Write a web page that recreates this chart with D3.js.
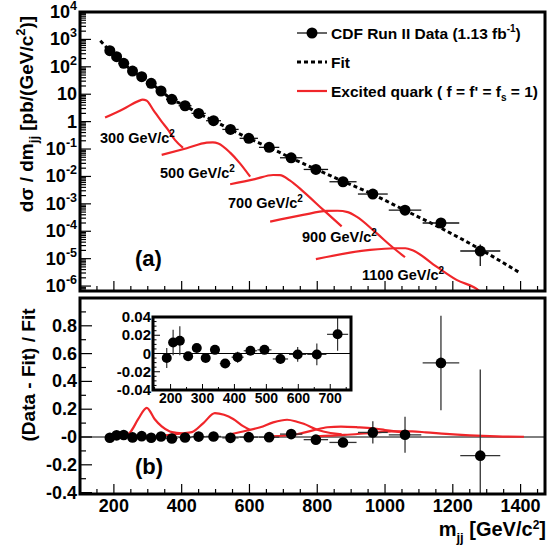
<!DOCTYPE html>
<html><head><meta charset="utf-8">
<script src="https://cdn.jsdelivr.net/npm/d3@7"></script>
<style>
body{margin:0;background:#fff}
svg{display:block}
text{font-family:"Liberation Sans",Arial,Helvetica,sans-serif;font-weight:bold;fill:#000}
</style>
</head><body>
<svg id="c" width="547" height="551"></svg>
<script>
// ---------------- DATA ----------------
const mass      = [188, 208, 229, 255, 282, 310, 339, 371, 410, 450, 494, 544, 598, 658, 723, 796, 876, 964, 1059, 1165, 1281];
const massHalfW = [8, 10, 11, 13, 14, 14, 15, 17, 19, 21, 22, 24, 27, 30, 33, 36, 40, 44, 48, 54, 59];
const xsec      = [387, 234, 134, 70, 43.5, 25, 13.1, 6.5, 3.8, 2.0, 1.08, 0.52, 0.246, 0.115, 0.048, 0.018, 0.0064, 0.00228, 5.9e-4, 2.0e-4, 1.9e-5];
const resid     = [-0.005, 0.012, 0.014, -0.003, 0.006, -0.005, 0.004, -0.011, -0.004, 0.003, 0.004, -0.006, -0.001, -0.001, 0.021, -0.019, -0.039, 0.033, 0.016, 0.533, -0.134];
const residErr  = [0.011, 0.014, 0.016, 0.004, 0.004, 0.003, 0.004, 0.004, 0.006, 0.004, 0.004, 0.005, 0.008, 0.012, 0.018, 0.025, 0.03, 0.08, 0.13, 0.34, 0.62];

const fitMass = [160, 188, 208, 229, 255, 282, 310, 339, 371, 410, 450, 494, 544, 598, 658, 723, 796, 876, 964, 1059, 1165, 1281, 1395];
const fitVal  = [890, 389, 231, 132, 70.2, 43.2, 25.1, 13.05, 6.57, 3.82, 1.99, 1.076, 0.523, 0.246, 0.115, 0.047, 0.01835, 0.00666, 0.00221, 5.8e-4, 1.3e-4, 2.19e-5, 3.2e-6];

// excited quark signal shapes, [mass, dsigma/dm]
const sig300  = [[174,1.4],[228,2.9],[272,5.6],[285,6.3],[296,5.9],[316,2.7],[341,1.0],[360,0.5],[380,0.215],[404,0.11]];
const sig500  = [[341,0.061],[415,0.107],[474,0.171],[492,0.176],[508,0.16],[543,0.074],[572,0.030],[602,0.0098]];
const sig700  = [[543,0.0052],[616,0.0080],[670,0.0113],[690,0.0112],[719,0.0072],[759,0.0028],[818,6.0e-4],[872,1.5e-4]];
const sig900  = [[661,2.25e-4],[758,3.95e-4],[828,5.5e-4],[860,5.6e-4],[890,5.0e-4],[916,3.4e-4],[975,8.5e-5],[1024,2.5e-5],[1059,1.13e-5]];
const sig1100 = [[796,9.6e-6],[956,2.09e-5],[1030,2.4e-5],[1060,2.4e-5],[1083,1.97e-5],[1152,5.1e-6],[1211,1.68e-6],[1280,6.3e-7],[1300,3e-7]];
const sigLabels = ["300", "500", "700", "900", "1100"];

// excited quark signal / fit, [mass, ratio]
const rat300  = [[174,0],[230,0.005],[250,0.04],[272,0.13],[297,0.21],[320,0.13],[341,0.076],[365,0.04],[385,0.03],[404,0.025]];
const rat500  = [[341,0.01],[400,0.025],[430,0.035],[464,0.10],[498,0.172],[525,0.16],[552,0.13],[580,0.08],[602,0.05]];
const rat700  = [[543,0.02],[590,0.045],[632,0.07],[670,0.105],[711,0.124],[740,0.11],[760,0.095],[800,0.052],[839,0.029],[872,0.02]];
const rat900  = [[661,0.005],[740,0.02],[790,0.05],[830,0.07],[870,0.075],[920,0.07],[965,0.062],[1000,0.05],[1030,0.04],[1059,0.03]];
const rat1100 = [[796,0.005],[880,0.015],[960,0.03],[1020,0.04],[1080,0.04],[1120,0.034],[1180,0.022],[1250,0.012],[1330,0.005],[1410,0.002]];

const xTickVals = [200, 400, 600, 800, 1000, 1200, 1400];
const topExps   = [4, 3, 2, 1, 0, -1, -2, -3, -4, -5, -6];
const botTicks  = [-0.4, -0.2, 0, 0.2, 0.4, 0.6, 0.8];
const botLabels = ["-0.4", "-0.2", "-0", "0.2", "0.4", "0.6", "0.8"];
const insTicksY = [-0.04, -0.02, 0, 0.02, 0.04];
const insLabelsY = ["-0.04", "-0.02", "0", "0.02", "0.04"];
const insTicksX = [200, 300, 400, 500, 600, 700];
const insetCount = 15;

// ---------------- LAYOUT ----------------
const svg = d3.select("#c");
const RED = "#f0262a";
const L = 80, R = 545;
const topT = 12, topB = 291, botT = 298, botB = 494;

const x = d3.scaleLinear().domain([100, 1472]).range([L, R]);
const yT = d3.scaleLog().domain([Math.pow(10, -6.18), 1e4]).range([topB, topT]);
const yB = d3.scaleLinear().domain([-0.41, 1.0]).range([botB, botT]);

const defs = svg.append("defs");
defs.append("clipPath").attr("id", "clipT").append("rect").attr("x", L).attr("y", topT).attr("width", R - L).attr("height", topB - topT);
defs.append("clipPath").attr("id", "clipB").append("rect").attr("x", L).attr("y", botT).attr("width", R - L).attr("height", botB - botT);

// ---------------- TOP PANEL ----------------
const gT = svg.append("g");
const gTc = gT.append("g").attr("clip-path", "url(#clipT)");

const sigLine = d3.line().x(d => x(d[0])).y(d => yT(d[1])).curve(d3.curveMonotoneX);
[sig300, sig500, sig700, sig900, sig1100].forEach(s => {
  gTc.append("path").attr("d", sigLine(s)).attr("fill", "none").attr("stroke", RED).attr("stroke-width", 2.2);
});

const fitLine = d3.line().x((d, i) => x(fitMass[i])).y(d => yT(d)).curve(d3.curveMonotoneX);
gTc.append("path").attr("d", fitLine(fitVal)).attr("fill", "none").attr("stroke", "#000")
  .attr("stroke-width", 3).attr("stroke-dasharray", "4,3");

function fitAt(m) {
  const i = fitMass.findIndex(v => v >= m);
  if (i <= 0) return fitVal[0];
  const t = (m - fitMass[i - 1]) / (fitMass[i] - fitMass[i - 1]);
  return Math.pow(10, Math.log10(fitVal[i - 1]) * (1 - t) + Math.log10(fitVal[i]) * t);
}

mass.forEach((m, i) => {
  const f = fitAt(m);
  const lo = Math.max(xsec[i] - residErr[i] * f, 1e-7), hi = xsec[i] + residErr[i] * f;
  gTc.append("line").attr("x1", x(m - massHalfW[i])).attr("x2", x(m + massHalfW[i]))
    .attr("y1", yT(xsec[i])).attr("y2", yT(xsec[i])).attr("stroke", "#111").attr("stroke-width", 1.3);
  gTc.append("line").attr("x1", x(m)).attr("x2", x(m)).attr("y1", yT(lo)).attr("y2", yT(hi))
    .attr("stroke", "#111").attr("stroke-width", 1.3);
  gTc.append("circle").attr("cx", x(m)).attr("cy", yT(xsec[i])).attr("r", 5.5).attr("fill", "#000");
});

// signal labels
const labPos = [[100, 143], [160, 178], [228, 208], [302, 242], [362, 280]];
sigLabels.forEach((s, i) => {
  const t = gT.append("text").attr("x", labPos[i][0]).attr("y", labPos[i][1]).attr("font-size", 14.5);
  t.append("tspan").text(s + " GeV/c");
  t.append("tspan").attr("dy", -6).attr("font-size", 10).text("2");
});

// top axes ticks
for (let e = -7; e <= 3; e++) {
  for (let k = 1; k <= 9; k++) {
    const v = k * Math.pow(10, e);
    if (v < yT.domain()[0] || v > 1e4) continue;
    const len = k === 1 ? 11 : 6;
    gT.append("line").attr("x1", L).attr("x2", L + len).attr("y1", yT(v)).attr("y2", yT(v)).attr("stroke", "#000").attr("stroke-width", 1.2);
  }
}
for (let m = 150; m <= 1450; m += 50) {
  const len = m % 200 === 0 ? 10 : 5;
  gT.append("line").attr("x1", x(m)).attr("x2", x(m)).attr("y1", topB).attr("y2", topB - len).attr("stroke", "#000").attr("stroke-width", 1.2);
}
topExps.forEach(e => {
  const t = gT.append("text").attr("x", 77).attr("y", yT(Math.pow(10, e)) + 6).attr("text-anchor", "end").attr("font-size", 18);
  if (e === 0) t.text("1");
  else if (e === 1) t.text("10");
  else {
    t.append("tspan").text("10");
    t.append("tspan").attr("dy", -8).attr("font-size", 12.5).text(String(e));
  }
});
gT.append("rect").attr("x", L).attr("y", topT).attr("width", R - L).attr("height", topB - topT)
  .attr("fill", "none").attr("stroke", "#000").attr("stroke-width", 3);

// legend
const lg = gT.append("g");
lg.append("line").attr("x1", 297).attr("x2", 327).attr("y1", 33).attr("y2", 33).attr("stroke", "#333").attr("stroke-width", 1.5);
lg.append("circle").attr("cx", 312).attr("cy", 33).attr("r", 5.5).attr("fill", "#000");
const l1 = lg.append("text").attr("x", 331).attr("y", 39).attr("font-size", 15.5);
l1.append("tspan").text("CDF Run II Data (1.13 fb");
l1.append("tspan").attr("dy", -7).attr("font-size", 10).text("-1");
l1.append("tspan").attr("dy", 7).text(")");
lg.append("line").attr("x1", 297).attr("x2", 327).attr("y1", 62).attr("y2", 62).attr("stroke", "#000").attr("stroke-width", 3).attr("stroke-dasharray", "4,3");
lg.append("text").attr("x", 331).attr("y", 68).attr("font-size", 15.5).text("Fit");
lg.append("line").attr("x1", 297).attr("x2", 327).attr("y1", 91).attr("y2", 91).attr("stroke", RED).attr("stroke-width", 2.2);
const l3 = lg.append("text").attr("x", 331).attr("y", 97).attr("font-size", 15.5);
l3.append("tspan").text("Excited quark ( f = f' = f");
l3.append("tspan").attr("dy", 4).attr("font-size", 10).text("s");
l3.append("tspan").attr("dy", -4).text(" = 1)");

gT.append("text").attr("x", 135).attr("y", 266).attr("font-size", 22).text("(a)");

// y title top
const yt = svg.append("text").attr("transform", "translate(33,114) rotate(-90)").attr("text-anchor", "middle").attr("font-size", 19);
yt.append("tspan").text("d\u03c3 / dm");
yt.append("tspan").attr("dy", 5).attr("font-size", 13).text("jj");
yt.append("tspan").attr("dy", -5).text(" [pb/(GeV/c");
yt.append("tspan").attr("dy", -8).attr("font-size", 13).text("2");
yt.append("tspan").attr("dy", 8).text(")]");

// ---------------- BOTTOM PANEL ----------------
const gB = svg.append("g");
const gBc = gB.append("g").attr("clip-path", "url(#clipB)");
gBc.append("line").attr("x1", L).attr("x2", R).attr("y1", yB(0)).attr("y2", yB(0)).attr("stroke", "#000").attr("stroke-width", 1);

const ratLine = d3.line().x(d => x(d[0])).y(d => yB(d[1])).curve(d3.curveMonotoneX);
[rat300, rat500, rat700, rat900, rat1100].forEach(s => {
  gBc.append("path").attr("d", ratLine(s)).attr("fill", "none").attr("stroke", RED).attr("stroke-width", 2.2);
});
mass.forEach((m, i) => {
  gBc.append("line").attr("x1", x(m - massHalfW[i])).attr("x2", x(m + massHalfW[i]))
    .attr("y1", yB(resid[i])).attr("y2", yB(resid[i])).attr("stroke", "#333").attr("stroke-width", 1.3);
  gBc.append("line").attr("x1", x(m)).attr("x2", x(m)).attr("y1", yB(resid[i] - residErr[i])).attr("y2", yB(resid[i] + residErr[i]))
    .attr("stroke", "#333").attr("stroke-width", 1.3);
  gBc.append("circle").attr("cx", x(m)).attr("cy", yB(resid[i])).attr("r", 5.3).attr("fill", "#000");
});

for (let v = -0.4; v <= 1.0001; v += 0.1) {
  const major = Math.abs(Math.round(v * 10) % 2) === 0;
  gB.append("line").attr("x1", L).attr("x2", L + (major ? 12 : 6)).attr("y1", yB(v)).attr("y2", yB(v)).attr("stroke", "#000").attr("stroke-width", 1.2);
}
for (let m = 150; m <= 1450; m += 50) {
  const len = m % 200 === 0 ? 10 : 5;
  gB.append("line").attr("x1", x(m)).attr("x2", x(m)).attr("y1", botB).attr("y2", botB - len).attr("stroke", "#000").attr("stroke-width", 1.2);
}
botTicks.forEach((v, i) => {
  gB.append("text").attr("x", 77).attr("y", yB(v) + 6).attr("text-anchor", "end").attr("font-size", 18).text(botLabels[i]);
});
xTickVals.forEach(v => {
  gB.append("text").attr("x", x(v)).attr("y", 512).attr("text-anchor", "middle").attr("font-size", 18).text(v);
});
gB.append("rect").attr("x", L).attr("y", botT).attr("width", R - L).attr("height", botB - botT)
  .attr("fill", "none").attr("stroke", "#000").attr("stroke-width", 3);
gB.append("text").attr("x", 135).attr("y", 474).attr("font-size", 22).text("(b)");

svg.append("text").attr("transform", "translate(35,375) rotate(-90)").attr("text-anchor", "middle").attr("font-size", 19).text("(Data - Fit) / Fit");

const xt = svg.append("text").attr("x", 546).attr("y", 536).attr("text-anchor", "end").attr("font-size", 20);
xt.append("tspan").text("m");
xt.append("tspan").attr("dy", 6).attr("font-size", 13).text("jj");
xt.append("tspan").attr("dy", -6).text(" [GeV/c");
xt.append("tspan").attr("dy", -7).attr("font-size", 12).text("2");
xt.append("tspan").attr("dy", 7).text("]");

// ---------------- INSET ----------------
const iL = 153, iR = 351, iT = 317, iB = 390;
const xi = d3.scaleLinear().domain([145, 765]).range([iL, iR]);
const yi = d3.scaleLinear().domain([-0.04, 0.04]).range([iB, iT]);
const gI = svg.append("g");
gI.append("rect").attr("x", iL).attr("y", iT).attr("width", iR - iL).attr("height", iB - iT).attr("fill", "#fff");
gI.append("line").attr("x1", iL).attr("x2", iR).attr("y1", yi(0)).attr("y2", yi(0)).attr("stroke", "#000").attr("stroke-width", 1);
for (let i = 0; i < insetCount; i++) {
  const m = mass[i];
  gI.append("line").attr("x1", xi(m - massHalfW[i])).attr("x2", xi(m + massHalfW[i]))
    .attr("y1", yi(resid[i])).attr("y2", yi(resid[i])).attr("stroke", "#333").attr("stroke-width", 1.2);
  gI.append("line").attr("x1", xi(m)).attr("x2", xi(m)).attr("y1", yi(resid[i] - residErr[i])).attr("y2", yi(resid[i] + residErr[i]))
    .attr("stroke", "#333").attr("stroke-width", 1.2);
  gI.append("circle").attr("cx", xi(m)).attr("cy", yi(resid[i])).attr("r", 5).attr("fill", "#000");
}
for (let v = -0.04; v <= 0.04001; v += 0.005) {
  const major = Math.abs(Math.round(v * 1000) % 20) === 0;
  gI.append("line").attr("x1", iL).attr("x2", iL + (major ? 7 : 3.5)).attr("y1", yi(v)).attr("y2", yi(v)).attr("stroke", "#000").attr("stroke-width", 1);
}
for (let m = 150; m <= 750; m += 50) {
  const len = m % 100 === 0 ? 6 : 3;
  gI.append("line").attr("x1", xi(m)).attr("x2", xi(m)).attr("y1", iB).attr("y2", iB - len).attr("stroke", "#000").attr("stroke-width", 1);
}
insTicksY.forEach((v, i) => {
  gI.append("text").attr("x", 151).attr("y", yi(v) + 5).attr("text-anchor", "end").attr("font-size", 15).text(insLabelsY[i]);
});
insTicksX.forEach(v => {
  gI.append("text").attr("x", xi(v)).attr("y", 403).attr("text-anchor", "middle").attr("font-size", 14).text(v);
});
gI.append("rect").attr("x", iL).attr("y", iT).attr("width", iR - iL).attr("height", iB - iT)
  .attr("fill", "none").attr("stroke", "#000").attr("stroke-width", 3);
</script>
</body></html>
